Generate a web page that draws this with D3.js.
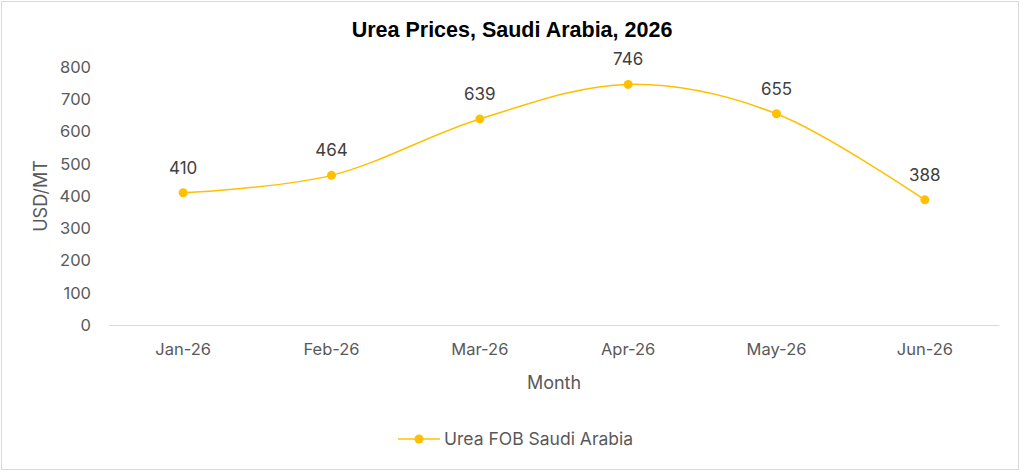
<!DOCTYPE html>
<html lang="en">
<head>
<meta charset="utf-8">
<title>Urea Prices, Saudi Arabia, 2026</title>
<script src="https://cdn.jsdelivr.net/npm/d3@7"></script>
<style>
  body { margin: 0; background: #fff; }
  .axis text { font-family: Inter, "Open Sans", sans-serif; font-size: 16.5px; fill: #595959; }
  .axis path, .axis line { stroke: #d9d9d9; }
</style>
</head>
<body>
<script>
var months = ["Jan-26", "Feb-26", "Mar-26", "Apr-26", "May-26", "Jun-26"];
var prices = [410, 464, 639, 746, 655, 388];
var yTicks = [0, 100, 200, 300, 400, 500, 600, 700, 800];
var seriesName = "Urea FOB Saudi Arabia";

var w = 1024, h = 472;
var plotLeft = 109, plotRight = 999, plotTop = 67, plotBottom = 325;
var gold = "#FFC000";

var svg = d3.select("body").append("svg")
  .attr("width", w).attr("height", h);

// chart border
svg.append("rect")
  .attr("x", 1.5).attr("y", 1.5)
  .attr("width", 1017).attr("height", 468)
  .attr("fill", "#fff").attr("stroke", "#d9d9d9");

var x = d3.scaleBand().domain(months).range([plotLeft, plotRight]);
var y = d3.scaleLinear().domain([0, 800]).range([plotBottom, plotTop]);

svg.append("text")
  .attr("x", 512).attr("y", 37)
  .attr("text-anchor", "middle")
  .attr("font-family", "Liberation Sans, Arial, sans-serif")
  .attr("font-weight", "bold").attr("font-size", "21.5px")
  .attr("fill", "#000")
  .text("Urea Prices, Saudi Arabia, 2026");

// y axis (labels only)
var yAxis = svg.append("g").attr("class", "axis")
  .attr("transform", "translate(" + plotLeft + ",0)")
  .call(d3.axisLeft(y).tickValues(yTicks).tickSize(0).tickPadding(18));
yAxis.select(".domain").remove();

// x axis
var xAxis = svg.append("g").attr("class", "axis")
  .attr("transform", "translate(0," + plotBottom + ")")
  .call(d3.axisBottom(x).tickSize(0).tickPadding(18));
xAxis.select(".domain").attr("d", "M" + plotLeft + ",0.5H" + plotRight);

svg.append("text")
  .attr("transform", "translate(47," + ((plotTop + plotBottom) / 2) + ") rotate(-90)")
  .attr("text-anchor", "middle")
  .attr("font-family", "Inter, sans-serif").attr("font-size", "18px")
  .attr("fill", "#595959")
  .text("USD/MT");

svg.append("text")
  .attr("x", (plotLeft + plotRight) / 2).attr("y", 389)
  .attr("text-anchor", "middle")
  .attr("font-family", "Inter, sans-serif").attr("font-size", "18px")
  .attr("fill", "#595959")
  .text("Month");

var cx = function(d, i) { return x(months[i]) + x.bandwidth() / 2; };

var line = d3.line()
  .x(cx)
  .y(function(d) { return y(d); })
  .curve(d3.curveCatmullRom.alpha(0));

svg.append("path")
  .datum(prices)
  .attr("d", line)
  .attr("fill", "none")
  .attr("stroke", gold)
  .attr("stroke-width", 1.5);

svg.selectAll("circle.pt")
  .data(prices)
  .enter().append("circle")
  .attr("class", "pt")
  .attr("cx", cx)
  .attr("cy", function(d) { return y(d); })
  .attr("r", 4.5)
  .attr("fill", gold);

svg.selectAll("text.lbl")
  .data(prices)
  .enter().append("text")
  .attr("class", "lbl")
  .attr("x", cx)
  .attr("y", function(d) { return y(d) - 19; })
  .attr("text-anchor", "middle")
  .attr("font-family", "Inter, sans-serif").attr("font-size", "17px")
  .attr("fill", "#404040")
  .text(function(d) { return d; });

// legend
var lg = svg.append("g").attr("transform", "translate(398,439)");
lg.append("line").attr("x1", 0).attr("x2", 42).attr("y1", 0).attr("y2", 0)
  .attr("stroke", gold).attr("stroke-width", 1.5);
lg.append("circle").attr("cx", 21).attr("cy", 0).attr("r", 4.5).attr("fill", gold);
lg.append("text").attr("x", 46).attr("y", 6)
  .attr("font-family", "Inter, sans-serif").attr("font-size", "17.5px")
  .attr("fill", "#595959")
  .text(seriesName);
</script>
</body>
</html>
